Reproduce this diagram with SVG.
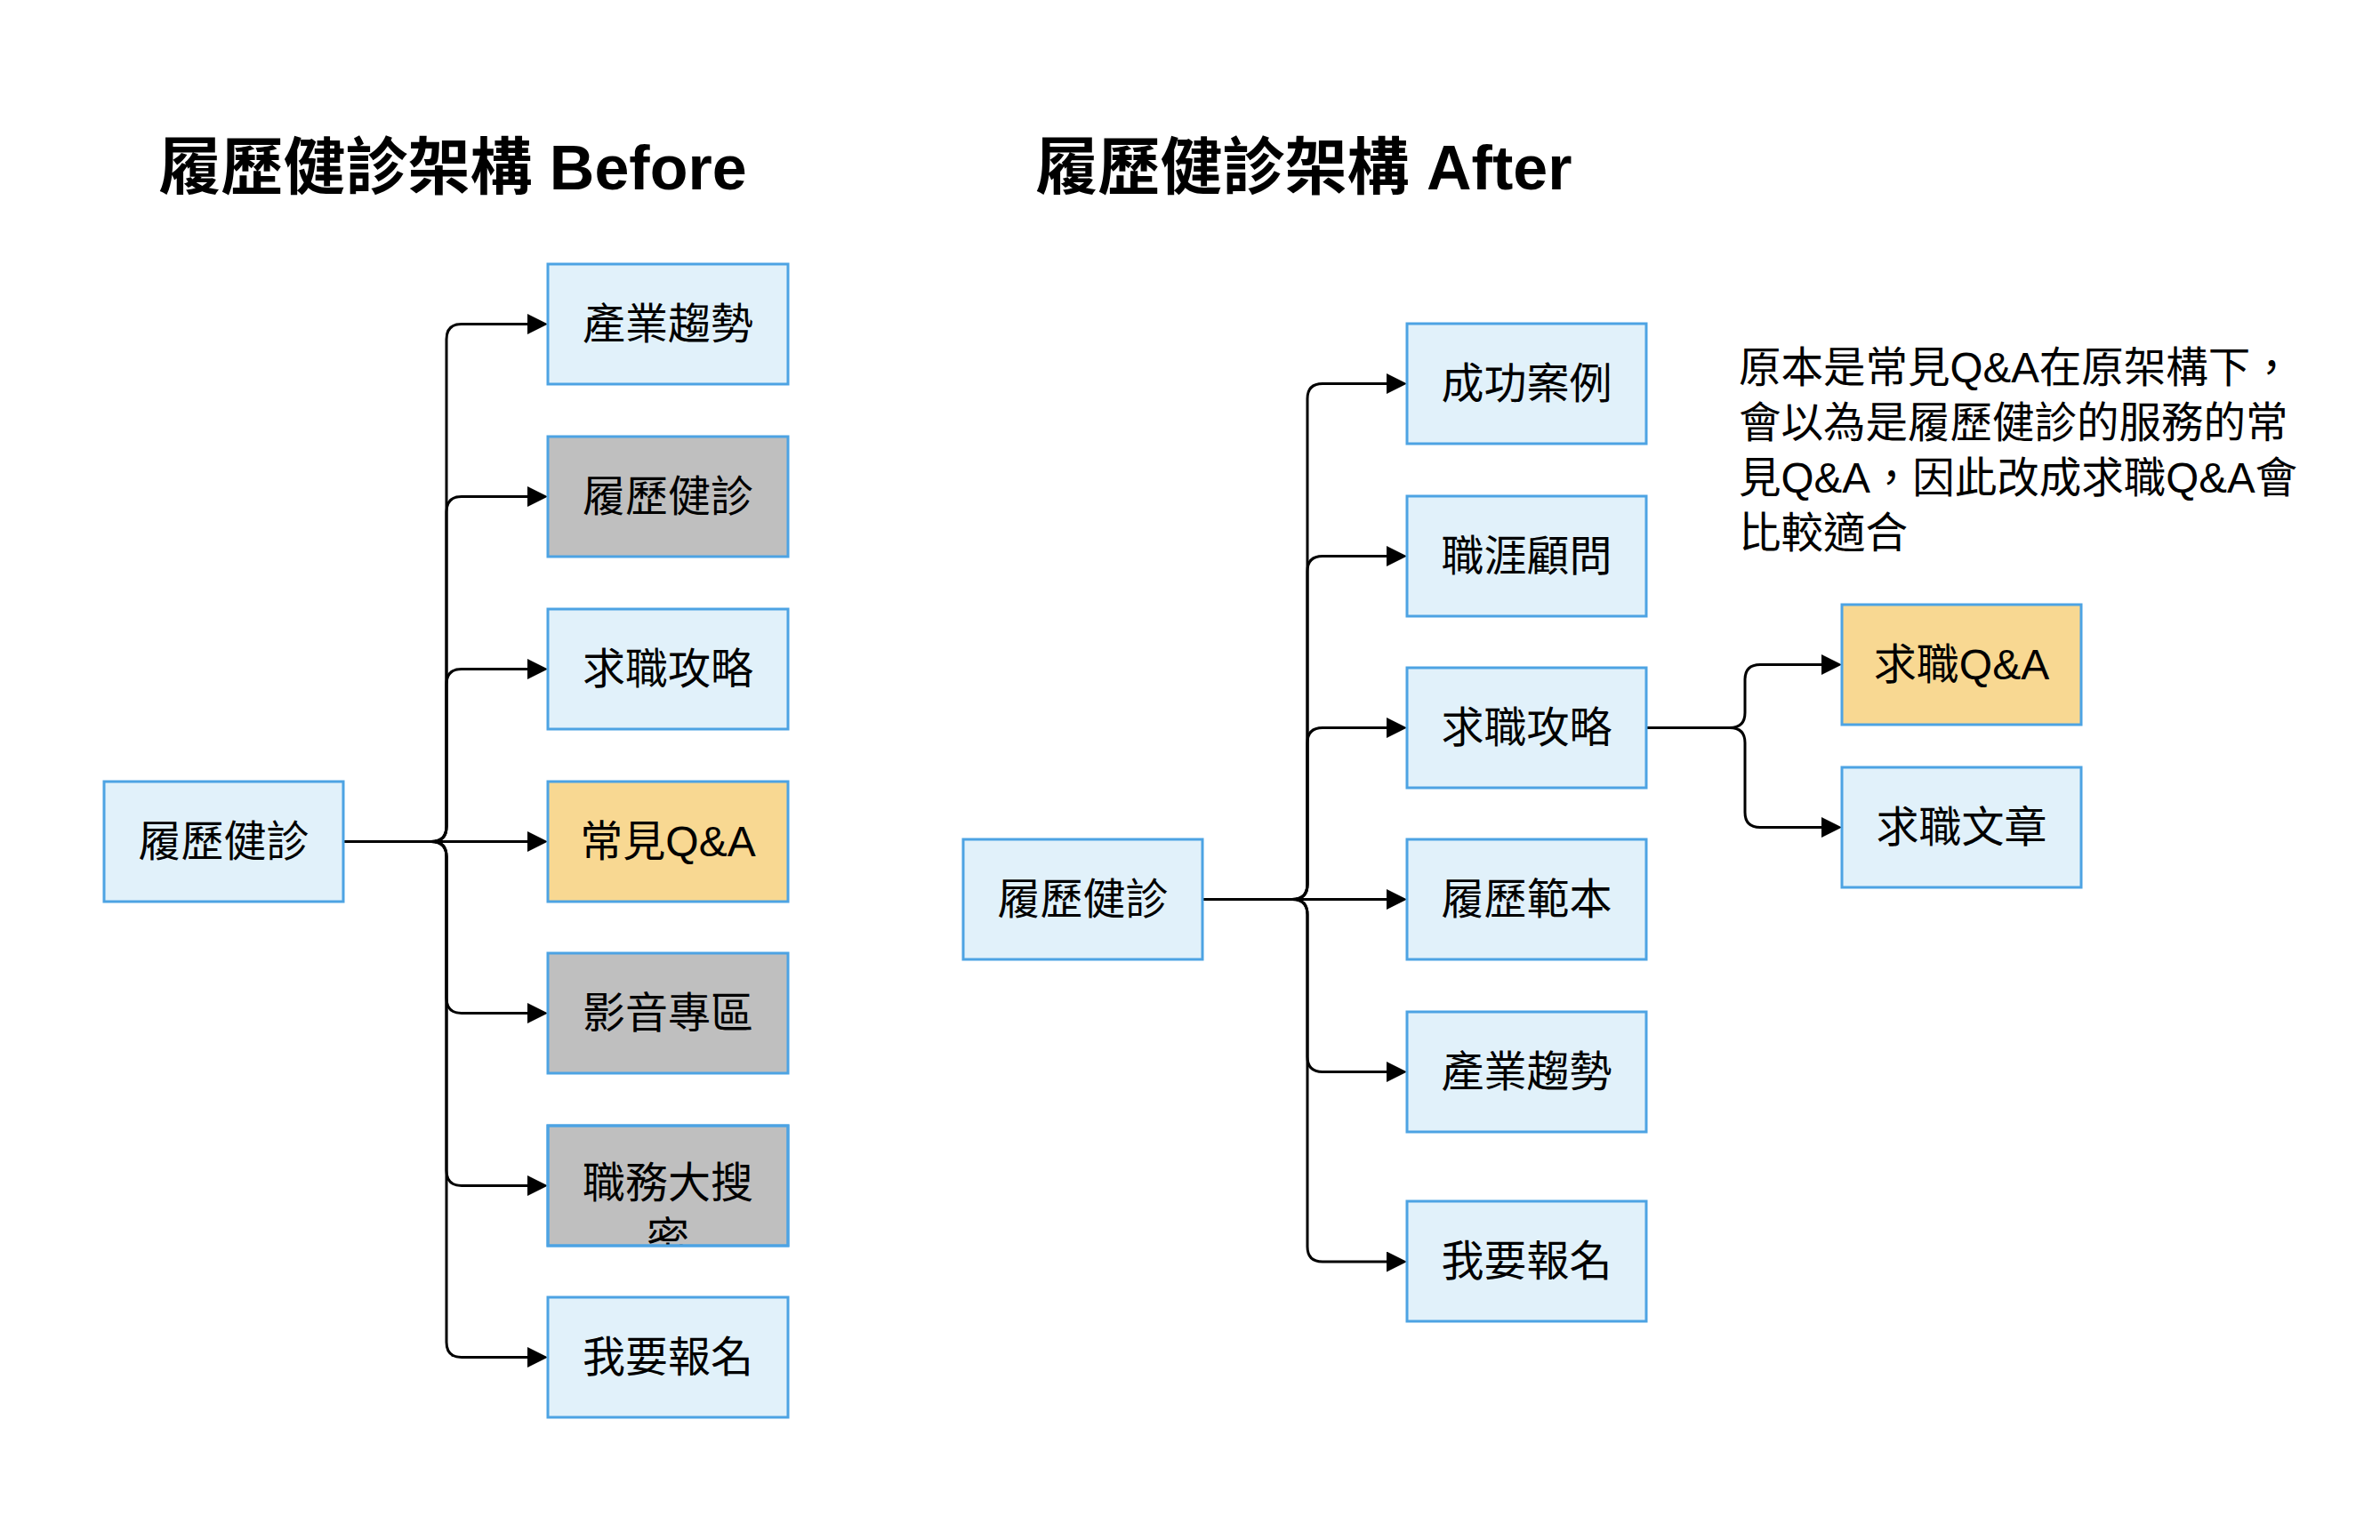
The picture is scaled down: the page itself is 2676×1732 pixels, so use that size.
<svg xmlns="http://www.w3.org/2000/svg" width="2676" height="1732" viewBox="0 0 2676 1732">
<style>
text{font-family:"Liberation Sans","Noto Sans CJK TC",sans-serif;fill:#000}
.title{font-size:70px;font-weight:bold;text-anchor:middle}
.lbl{font-size:48px;text-anchor:middle;dominant-baseline:central}
.note{font-size:47.5px}
.box{stroke:#4DA3E3;stroke-width:3}
.blue{fill:#E1F1FA}
.gray{fill:#BFBFBF}
.orange{fill:#F8D892}
.edge{fill:none;stroke:#000;stroke-width:3;marker-end:url(#arr)}
</style>
<defs>
<marker id="arr" viewBox="0 0 23 23" refX="0" refY="11.5" markerWidth="23" markerHeight="23" markerUnits="userSpaceOnUse" orient="auto">
<path d="M0,0 L23,11.5 L0,23 Z" fill="#000"/>
</marker>
<clipPath id="clipJob"><rect x="616" y="1266" width="270" height="135"/></clipPath>
</defs>
<rect x="0" y="0" width="2676" height="1732" fill="#fff"/>

<text class="title" x="509" y="213">履歷健診架構 Before</text>
<text class="title" x="1466" y="213">履歷健診架構 After</text>

<g id="connectors">
<path class="edge" d="M386 946.5 H485 Q502 946.5 502 929.5 V381.5 Q502 364.5 519 364.5 H593"/>
<path class="edge" d="M386 946.5 H485 Q502 946.5 502 929.5 V575.5 Q502 558.5 519 558.5 H593"/>
<path class="edge" d="M386 946.5 H485 Q502 946.5 502 929.5 V769.5 Q502 752.5 519 752.5 H593"/>
<path class="edge" d="M386 946.5 H593"/>
<path class="edge" d="M386 946.5 H485 Q502 946.5 502 963.5 V1122.5 Q502 1139.5 519 1139.5 H593"/>
<path class="edge" d="M386 946.5 H485 Q502 946.5 502 963.5 V1316.5 Q502 1333.5 519 1333.5 H593"/>
<path class="edge" d="M386 946.5 H485 Q502 946.5 502 963.5 V1509.5 Q502 1526.5 519 1526.5 H593"/>

<path class="edge" d="M1352 1011.5 H1453 Q1470 1011.5 1470 994.5 V448.5 Q1470 431.5 1487 431.5 H1559"/>
<path class="edge" d="M1352 1011.5 H1453 Q1470 1011.5 1470 994.5 V642.5 Q1470 625.5 1487 625.5 H1559"/>
<path class="edge" d="M1352 1011.5 H1453 Q1470 1011.5 1470 994.5 V835.5 Q1470 818.5 1487 818.5 H1559"/>
<path class="edge" d="M1352 1011.5 H1559"/>
<path class="edge" d="M1352 1011.5 H1453 Q1470 1011.5 1470 1028.5 V1188.5 Q1470 1205.5 1487 1205.5 H1559"/>
<path class="edge" d="M1352 1011.5 H1453 Q1470 1011.5 1470 1028.5 V1402 Q1470 1419 1487 1419 H1559"/>

<path class="edge" d="M1852 818.5 H1945 Q1962 818.5 1962 801.5 V764.5 Q1962 747.5 1979 747.5 H2048"/>
<path class="edge" d="M1852 818.5 H1945 Q1962 818.5 1962 835.5 V913.5 Q1962 930.5 1979 930.5 H2048"/>
</g>

<g id="before-root"><rect class="box blue" x="117" y="879" width="269" height="135"/><text class="lbl" x="251.5" y="946.5">履歷健診</text></g>
<g id="before-industry"><rect class="box blue" x="616" y="297" width="270" height="135"/><text class="lbl" x="751" y="364.5">產業趨勢</text></g>
<g id="before-resume"><rect class="box gray" x="616" y="491" width="270" height="135"/><text class="lbl" x="751" y="558.5">履歷健診</text></g>
<g id="before-strategy"><rect class="box blue" x="616" y="685" width="270" height="135"/><text class="lbl" x="751" y="752.5">求職攻略</text></g>
<g id="before-faq"><rect class="box orange" x="616" y="879" width="270" height="135"/><text class="lbl" x="751" y="946.5">常見Q&amp;A</text></g>
<g id="before-video"><rect class="box gray" x="616" y="1072" width="270" height="135"/><text class="lbl" x="751" y="1139.5">影音專區</text></g>
<g id="before-jobsearch"><rect class="box gray" x="616" y="1266" width="270" height="135"/><g clip-path="url(#clipJob)"><text class="lbl" x="751" y="1330">職務大搜</text><text class="lbl" x="751" y="1392">密</text></g><rect x="616" y="1266" width="270" height="135" fill="none" class="box"/></g>
<g id="before-signup"><rect class="box blue" x="616" y="1459" width="270" height="135"/><text class="lbl" x="751" y="1526.5">我要報名</text></g>

<g id="after-root"><rect class="box blue" x="1083" y="944" width="269" height="135"/><text class="lbl" x="1217.5" y="1011.5">履歷健診</text></g>
<g id="after-success"><rect class="box blue" x="1582" y="364" width="269" height="135"/><text class="lbl" x="1716.5" y="431.5">成功案例</text></g>
<g id="after-advisor"><rect class="box blue" x="1582" y="558" width="269" height="135"/><text class="lbl" x="1716.5" y="625.5">職涯顧問</text></g>
<g id="after-strategy"><rect class="box blue" x="1582" y="751" width="269" height="135"/><text class="lbl" x="1716.5" y="818.5">求職攻略</text></g>
<g id="after-template"><rect class="box blue" x="1582" y="944" width="269" height="135"/><text class="lbl" x="1716.5" y="1011.5">履歷範本</text></g>
<g id="after-industry"><rect class="box blue" x="1582" y="1138" width="269" height="135"/><text class="lbl" x="1716.5" y="1205.5">產業趨勢</text></g>
<g id="after-signup"><rect class="box blue" x="1582" y="1351" width="269" height="135"/><text class="lbl" x="1716.5" y="1418.5">我要報名</text></g>
<g id="after-jobfaq"><rect class="box orange" x="2071" y="680" width="269" height="135"/><text class="lbl" x="2205.5" y="747.5">求職Q&amp;A</text></g>
<g id="after-articles"><rect class="box blue" x="2071" y="863" width="269" height="135"/><text class="lbl" x="2205.5" y="930.5">求職文章</text></g>

<g id="note">
<text class="note" x="1955" y="430">原本是常見Q&amp;A在原架構下，</text>
<text class="note" x="1955" y="492">會以為是履歷健診的服務的常</text>
<text class="note" x="1955" y="554">見Q&amp;A，因此改成求職Q&amp;A會</text>
<text class="note" x="1955" y="616">比較適合</text>
</g>
</svg>
